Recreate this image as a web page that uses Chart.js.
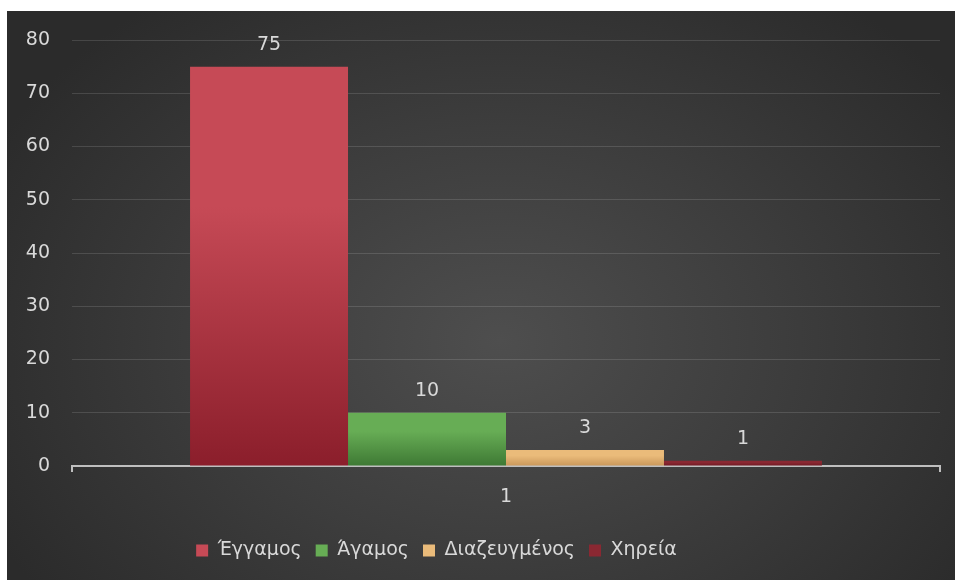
<!DOCTYPE html>
<html>
<head>
<meta charset="utf-8">
<script src="https://cdn.jsdelivr.net/npm/chart.js@4.4.1/dist/chart.umd.min.js"></script>
<style>
    html, body { margin: 0; padding: 0; background: #ffffff; }
    #wrap {
        position: absolute; left: 7px; top: 11px; width: 948px; height: 569px;
        background: radial-gradient(ellipse 60% 75% at 52% 58%, #4e4e4e 0%, #3d3d3d 50%, #2b2b2b 100%);
    }
</style>
</head>
<body>
<div id="wrap"><canvas id="statusChart" width="948" height="569"></canvas></div>
<script>
    const categories = ["1"];
    const seriesNames = ["Έγγαμος", "Άγαμος", "Διαζευγμένος", "Χηρεία"];
    const seriesValues = [[75], [10], [3], [1]];
    const yTicks = [0, 10, 20, 30, 40, 50, 60, 70, 80];

    // top / bottom colour of each bar gradient
    const barColors = [
        ["#c64a56", "#8b1e2b"],
        ["#67ad55", "#3e7934"],
        ["#eabb7a", "#c9975a"],
        ["#8a2832", "#701822"]
    ];
    const FONT = "'DejaVu Sans', 'Noto Sans', sans-serif";
    const TEXT = "#d9d9d9";

    // gradient runs from each bar's own top down to the baseline
    function barGradient(i) {
        return function (context) {
            const chart = context.chart;
            const area = chart.chartArea;
            const y = chart.scales.y;
            if (!area || !y || context.raw === undefined) return barColors[i][0];
            const top = y.getPixelForValue(context.raw);
            const bottom = y.getPixelForValue(0);
            const g = chart.ctx.createLinearGradient(0, top, 0, Math.max(bottom, top + 1));
            g.addColorStop(0, barColors[i][0]);
            g.addColorStop(0.35, barColors[i][0]);
            g.addColorStop(1, barColors[i][1]);
            return g;
        };
    }

    // value labels above bars
    const valueLabels = {
        id: "valueLabels",
        afterDatasetsDraw(chart) {
            const ctx = chart.ctx;
            ctx.save();
            ctx.font = "19px " + FONT;
            ctx.fillStyle = TEXT;
            ctx.textAlign = "center";
            ctx.textBaseline = "bottom";
            chart.data.datasets.forEach((ds, i) => {
                chart.getDatasetMeta(i).data.forEach((bar, j) => {
                    ctx.fillText(ds.data[j], bar.x, bar.y - 12);
                });
            });
            ctx.restore();
        }
    };

    // legend sits a little left of centre
    const legendShift = {
        id: "legendShift",
        afterLayout(chart) {
            const lg = chart.legend;
            if (!lg) return;
            lg.left -= 37;
            lg.right -= 37;
        }
    };

    const ctx = document.getElementById("statusChart").getContext("2d");
    new Chart(ctx, {
        type: "bar",
        data: {
            labels: categories,
            datasets: seriesNames.map((name, i) => ({
                label: name,
                data: seriesValues[i],
                backgroundColor: barGradient(i),
                borderWidth: 0,
                categoryPercentage: 0.728,
                barPercentage: 1
            }))
        },
        options: {
            responsive: false,
            animation: false,
            layout: { padding: { top: 29, right: 15, left: 0, bottom: 10 } },
            scales: {
                x: {
                    grid: { drawOnChartArea: false, color: "#bfbfbf", lineWidth: 2, tickLength: 6, offset: true },
                    border: { color: "#bfbfbf", width: 2 },
                    ticks: { color: TEXT, font: { family: FONT, size: 19 }, padding: 14 },
                    afterFit(scale) { scale.height = 61; }
                },
                y: {
                    min: 0,
                    max: 80,
                    afterBuildTicks(scale) { scale.ticks = yTicks.map(v => ({ value: v })); },
                    grid: { color: "rgba(255,255,255,0.13)", lineWidth: 1, drawTicks: false },
                    border: { display: false },
                    ticks: { color: TEXT, font: { family: FONT, size: 19 }, padding: 22 },
                    afterFit(scale) {
                        scale.width = 65;
                        scale.paddingTop = 0;
                        scale.paddingBottom = 0;
                    }
                }
            },
            plugins: {
                tooltip: { enabled: false },
                legend: {
                    position: "bottom",
                    labels: {
                        color: TEXT,
                        font: { family: FONT, size: 19 },
                        boxWidth: 12,
                        boxHeight: 12,
                        padding: 14,
                        generateLabels(chart) {
                            return chart.data.datasets.map((ds, i) => ({
                                text: ds.label,
                                fillStyle: barColors[i][0],
                                strokeStyle: barColors[i][0],
                                lineWidth: 0,
                                fontColor: TEXT,
                                datasetIndex: i,
                                hidden: false
                            }));
                        }
                    }
                }
            }
        },
        plugins: [valueLabels, legendShift]
    });
</script>
</body>
</html>
